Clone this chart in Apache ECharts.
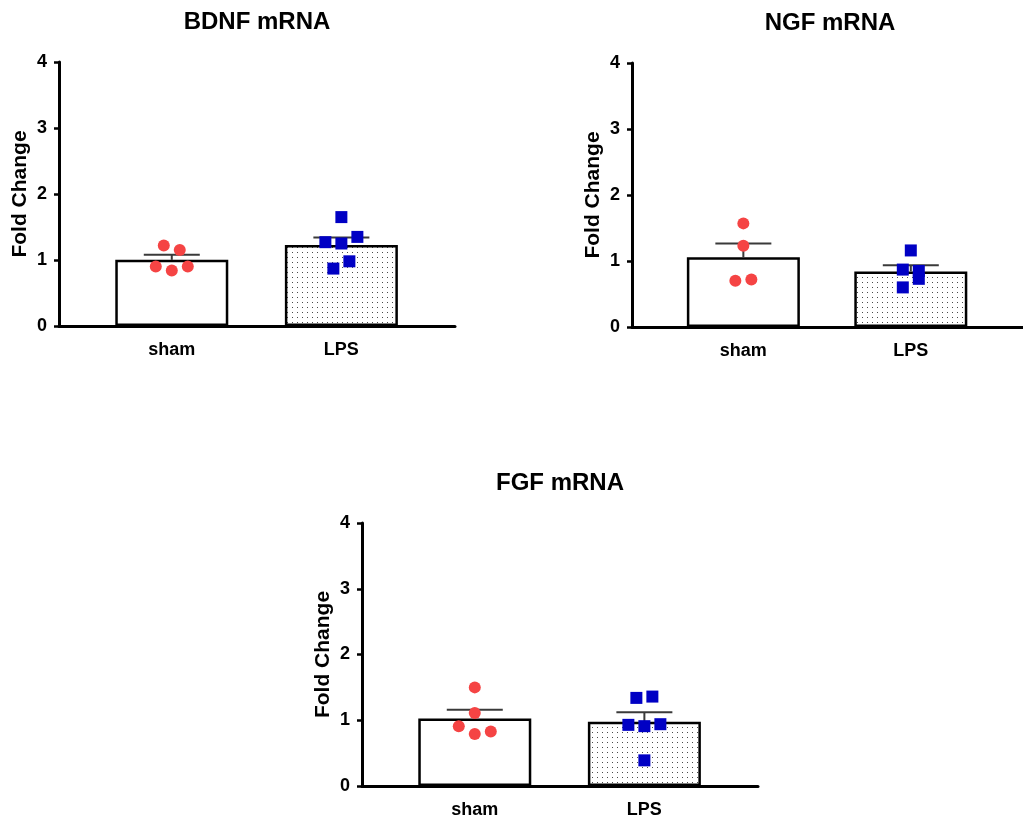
<!DOCTYPE html>
<html>
<head>
<meta charset="utf-8">
<script src="https://cdn.jsdelivr.net/npm/echarts@6/dist/echarts.min.js"></script>
<style>
html,body{margin:0;padding:0;background:#fff;}
#c{width:1023px;height:819px;}
</style>
</head>
<body>
<div id="c"></div>
<script>
// ---------------- data ----------------
const groups = ['sham', 'LPS'];
const panelTitles = ['BDNF mRNA', 'NGF mRNA', 'FGF mRNA'];
const yTicks = [0, 1, 2, 3, 4];
const yAxisName = 'Fold Change';

const bdnfSham = [1.22, 1.15, 0.90, 0.84, 0.90];
const bdnfLps  = [1.65, 1.27, 1.25, 1.35, 0.87, 0.98];
const ngfSham  = [1.57, 1.23, 0.70, 0.72];
const ngfLps   = [1.16, 0.87, 0.85, 0.60, 0.73];
const fgfSham  = [1.50, 1.11, 0.91, 0.79, 0.83];
const fgfLps   = [1.34, 1.36, 0.93, 0.91, 0.94, 0.39];

// ---------------- layout ----------------
const FONT = 'Liberation Sans';
const panelLayout = [
  { left: 59,  top: 62 },
  { left: 632, top: 63 },
  { left: 362, top: 523 }
];
const GRID_W = 396, GRID_H = 264;
const X_MIN = -0.665, X_MAX = 1.67;
const BAR_W = 113;
const CAP_HALF = 28;
const SLOT_PX = 16;          // horizontal spacing of points sharing a row
const ROW_TOL = 0.14;        // values closer than this share a row (scatter dot plot)
const MARK = 12;

const panels = [
  { title: panelTitles[0], sets: [bdnfSham, bdnfLps] },
  { title: panelTitles[1], sets: [ngfSham, ngfLps] },
  { title: panelTitles[2], sets: [fgfSham, fgfLps] }
];

function mean(a) { return a.reduce((s, v) => s + v, 0) / a.length; }
function sem(a) {
  const m = mean(a);
  const v = a.reduce((s, x) => s + (x - m) * (x - m), 0) / (a.length - 1);
  return Math.sqrt(v / a.length);
}
// column-scatter row layout: group close values into rows, centre each row
function rowOffsets(vals) {
  const idx = vals.map((v, i) => i).sort((a, b) => vals[a] - vals[b]);
  const off = new Array(vals.length).fill(0);
  let row = [];
  let start = null;
  const flush = () => {
    row.sort((a, b) => a - b);
    row.forEach((id, k) => { off[id] = (k - (row.length - 1) / 2) * SLOT_PX; });
    row = [];
  };
  idx.forEach(id => {
    if (start === null || vals[id] - start > ROW_TOL) { if (row.length) flush(); start = vals[id]; }
    row.push(id);
  });
  if (row.length) flush();
  return off;
}

// dotted pattern for LPS bars
const pc = document.createElement('canvas');
pc.width = 5; pc.height = 5;
const pctx = pc.getContext('2d');
pctx.fillStyle = '#ffffff'; pctx.fillRect(0, 0, 5, 5);
pctx.fillStyle = '#4a4a4a'; pctx.fillRect(2, 2, 1, 1);
const dotPattern = { image: pc, repeat: 'repeat' };

const grid = [], xAxis = [], yAxis = [], series = [], graphic = [];

panels.forEach((p, i) => {
  const L = panelLayout[i];
  grid.push({ left: L.left, top: L.top, width: GRID_W, height: GRID_H, containLabel: false });
  xAxis.push({
    gridIndex: i, type: 'value', min: X_MIN, max: X_MAX,
    axisLine: { show: true, onZero: false, lineStyle: { color: '#000', width: 3 } },
    axisTick: { show: false },
    splitLine: { show: false },
    axisLabel: {
      customValues: [0, 1],
      formatter: v => groups[Math.round(v)],
      color: '#000', fontWeight: 'bold', fontSize: 18, fontFamily: FONT, margin: 15
    }
  });
  yAxis.push({
    gridIndex: i, type: 'value', min: yTicks[0], max: yTicks[yTicks.length - 1], interval: 1,
    axisLine: { show: true, onZero: false, lineStyle: { color: '#000', width: 3 } },
    axisTick: { show: true, length: 5, lineStyle: { color: '#000', width: 2.5 } },
    splitLine: { show: false },
    axisLabel: { color: '#000', fontWeight: 'bold', fontSize: 18, fontFamily: FONT, margin: 12 },
    name: yAxisName, nameLocation: 'middle', nameGap: 28,
    nameTextStyle: { color: '#000', fontWeight: 'bold', fontSize: 21, fontFamily: FONT }
  });

  const stats = p.sets.map(s => ({ m: mean(s), e: sem(s) }));

  series.push({
    type: 'bar', xAxisIndex: i, yAxisIndex: i, barWidth: BAR_W, z: 2,
    itemStyle: { borderColor: '#000', borderWidth: 2.5 },
    data: stats.map((st, g) => ({
      value: [g, st.m],
      itemStyle: { color: g === 0 ? '#ffffff' : dotPattern }
    }))
  });

  series.push({
    type: 'custom', xAxisIndex: i, yAxisIndex: i, z: 3,
    encode: { x: 0, y: [1, 2] },
    data: stats.map((st, g) => [g, st.m, st.m + st.e]),
    renderItem: function (params, api) {
      const x = api.value(0);
      const p0 = api.coord([x, api.value(1)]);
      const p1 = api.coord([x, api.value(2)]);
      const st = { stroke: '#3a3a3a', lineWidth: 2 };
      return {
        type: 'group', children: [
          { type: 'line', shape: { x1: p0[0], y1: p0[1], x2: p1[0], y2: p1[1] }, style: st },
          { type: 'line', shape: { x1: p1[0] - CAP_HALF, y1: p1[1], x2: p1[0] + CAP_HALF, y2: p1[1] }, style: st }
        ]
      };
    }
  });

  p.sets.forEach((vals, g) => {
    const off = rowOffsets(vals);
    series.push({
      type: 'scatter', xAxisIndex: i, yAxisIndex: i, z: 4,
      symbol: g === 0 ? 'circle' : 'rect',
      symbolSize: MARK,
      itemStyle: { color: g === 0 ? '#f54444' : '#0000c4', opacity: 1 },
      data: vals.map((v, k) => ({ value: [g, v], symbolOffset: [off[k], 0] }))
    });
  });

  graphic.push({
    type: 'text',
    x: L.left + GRID_W / 2, y: L.top - 40,
    style: {
      text: p.title, fill: '#000', fontSize: 24, fontWeight: 'bold', fontFamily: FONT,
      align: 'center', verticalAlign: 'middle'
    }
  });
});

const chart = echarts.init(document.getElementById('c'), null, { renderer: 'canvas' });
chart.setOption({
  animation: false,
  backgroundColor: '#ffffff',
  grid, xAxis, yAxis, series, graphic
});
</script>
</body>
</html>
